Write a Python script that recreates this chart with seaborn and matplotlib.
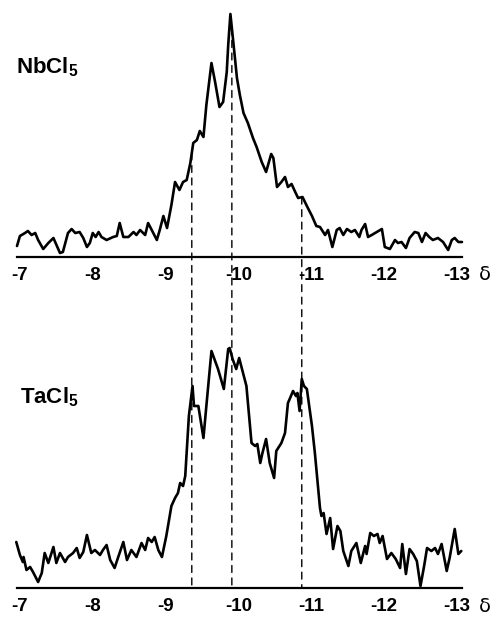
import numpy as np
import pandas as pd
import matplotlib
matplotlib.use("Agg")
import matplotlib.pyplot as plt
from matplotlib.patches import ConnectionPatch
import seaborn as sns

# chemical shift (ppm) and intensity
nb_shift = [-6.96, -7.00, -7.07, -7.11, -7.16, -7.21, -7.25, -7.32, -7.39, -7.46,
            -7.55, -7.59, -7.66, -7.71, -7.76, -7.82, -7.87, -7.92, -7.96, -8.00,
            -8.04, -8.08, -8.12, -8.19, -8.28, -8.33, -8.37, -8.42, -8.49, -8.56,
            -8.60, -8.65, -8.72, -8.76, -8.81, -8.88, -8.92, -8.97, -9.02, -9.08,
            -9.13, -9.19, -9.24, -9.29, -9.34, -9.38, -9.43, -9.47, -9.52, -9.56,
            -9.63, -9.68, -9.74, -9.79, -9.84, -9.86, -9.89, -9.93, -9.98, -10.02,
            -10.07, -10.13, -10.20, -10.25, -10.32, -10.38, -10.45, -10.48, -10.53, -10.59,
            -10.64, -10.68, -10.73, -10.78, -10.82, -10.88, -10.94, -11.01, -11.07, -11.12,
            -11.19, -11.23, -11.29, -11.35, -11.39, -11.44, -11.49, -11.55, -11.60, -11.66,
            -11.69, -11.74, -11.78, -11.83, -11.90, -11.97, -12.01, -12.08, -12.15, -12.19,
            -12.24, -12.30, -12.35, -12.42, -12.47, -12.52, -12.57, -12.62, -12.67, -12.74,
            -12.81, -12.88, -12.93, -12.97, -13.02, -13.07]
nb_int = [11, 21, 24, 26, 22, 24, 17, 8, 14, 19,
          4, 5, 24, 28, 24, 25, 19, 10, 14, 24,
          20, 25, 20, 17, 20, 21, 34, 20, 20, 25,
          22, 27, 22, 34, 27, 17, 27, 41, 29, 52,
          75, 67, 75, 77, 94, 114, 117, 126, 120, 152,
          194, 175, 150, 155, 185, 212, 243, 215, 179, 162,
          144, 134, 119, 110, 95, 85, 103, 99, 70, 75,
          80, 70, 73, 65, 59, 60, 51, 41, 31, 30,
          22, 27, 10, 27, 29, 22, 28, 25, 27, 20,
          27, 33, 20, 22, 25, 28, 10, 8, 17, 14,
          15, 9, 19, 25, 24, 15, 24, 20, 17, 19,
          15, 7, 17, 19, 15, 15]

ta_shift = [-6.95, -7.00, -7.04, -7.05, -7.09, -7.14, -7.18, -7.25, -7.30, -7.34,
            -7.39, -7.46, -7.50, -7.55, -7.62, -7.66, -7.73, -7.78, -7.82, -7.87,
            -7.92, -7.98, -8.03, -8.10, -8.14, -8.19, -8.24, -8.30, -8.35, -8.42,
            -8.47, -8.53, -8.60, -8.67, -8.72, -8.76, -8.81, -8.85, -8.90, -8.95,
            -9.01, -9.08, -9.13, -9.17, -9.20, -9.24, -9.27, -9.32, -9.37, -9.39,
            -9.45, -9.52, -9.56, -9.63, -9.72, -9.80, -9.86, -9.88, -9.92, -9.97,
            -10.01, -10.11, -10.18, -10.23, -10.26, -10.30, -10.33, -10.38, -10.43, -10.49,
            -10.52, -10.59, -10.64, -10.68, -10.71, -10.75, -10.79, -10.81, -10.84, -10.87,
            -10.90, -10.94, -11.01, -11.05, -11.12, -11.14, -11.17, -11.21, -11.26, -11.30,
            -11.36, -11.40, -11.44, -11.51, -11.55, -11.62, -11.68, -11.74, -11.76, -11.81,
            -11.86, -11.91, -11.94, -11.98, -12.04, -12.10, -12.16, -12.22, -12.25, -12.30,
            -12.35, -12.40, -12.45, -12.50, -12.55, -12.59, -12.65, -12.70, -12.74, -12.79,
            -12.86, -12.90, -12.97, -13.02, -13.06]
ta_int = [46, 33, 26, 31, 18, 21, 16, 6, 15, 35,
          25, 41, 25, 35, 26, 31, 35, 40, 30, 36,
          53, 35, 38, 33, 38, 43, 28, 20, 31, 46,
          28, 38, 31, 45, 38, 50, 46, 51, 38, 31,
          52, 82, 90, 95, 105, 102, 112, 172, 202, 182,
          182, 150, 182, 237, 219, 199, 239, 240, 229, 219,
          230, 202, 145, 142, 144, 125, 135, 149, 125, 110,
          137, 145, 155, 185, 190, 197, 192, 195, 177, 209,
          202, 199, 162, 135, 80, 72, 75, 54, 70, 39,
          62, 57, 37, 22, 37, 45, 25, 42, 34, 55,
          52, 54, 45, 52, 29, 35, 29, 20, 44, 14,
          39, 34, 27, 2, 22, 40, 37, 40, 34, 44,
          17, 30, 59, 34, 37]

peak_shifts = [-9.36, -9.91, -10.87]
tick_vals = [-7, -8, -9, -10, -11, -12, -13]
labels = ["NbCl$_5$", "TaCl$_5$"]

sns.set_style("white")
plt.rcParams['font.family'] = ['Liberation Sans', 'DejaVu Sans']
plt.rcParams['axes.unicode_minus'] = False
plt.rcParams['mathtext.default'] = 'regular'
plt.rcParams['text.color'] = 'black'
plt.rcParams['xtick.color'] = 'black'
plt.rcParams['xtick.labelcolor'] = 'black'

W, H = 495, 619
fig = plt.figure(figsize=(W / 100, H / 100), dpi=100)
ax_top = fig.add_axes([17 / W, 1 - 257 / H, 445 / W, 250 / H])
ax_bot = fig.add_axes([17 / W, 1 - 588 / H, 445 / W, 250 / H])

spectra = [(ax_top, nb_shift, nb_int), (ax_bot, ta_shift, ta_int)]
for ax, xs, ys in spectra:
    df = pd.DataFrame({"shift": xs, "intensity": ys})
    sns.lineplot(data=df, x="shift", y="intensity", ax=ax, color="black",
                 linewidth=1.9, estimator=None, sort=False, clip_on=False)
    ax.set_xlim(-6.96, -13.07)
    ax.set_ylim(0, 250)
    for s in ["top", "left", "right"]:
        ax.spines[s].set_visible(False)
    ax.spines["bottom"].set_linewidth(1.6)
    ax.spines["bottom"].set_color("black")
    ax.set_yticks([])
    ax.set_xticks(tick_vals)
    ax.set_xticklabels([str(t) for t in tick_vals])
    ax.tick_params(axis="x", direction="out", length=6, width=1.6, pad=1.5,
                   labelsize=13.5, color="black", labelcolor="black")
    for lab in ax.get_xticklabels():
        lab.set_fontweight("bold")
    ax.set_xlabel("")
    ax.set_ylabel("")
    ax.text(1.052, -0.072, "δ", transform=ax.transAxes, ha="center", va="center",
            fontsize=14, family=["DejaVu Sans"], color="black")
    ax.patch.set_alpha(0)

fig.text(16 / W, 1 - 67 / H, labels[0], fontsize=16, fontweight="bold", va="center")
fig.text(20 / W, 1 - 397 / H, labels[1], fontsize=16, fontweight="bold", va="center")

# dashed guide lines from the NbCl5 curve down to the lower axis
for p in peak_shifts:
    top_y = np.interp(-p, [-v for v in nb_shift], nb_int)
    con = ConnectionPatch(xyA=(p, top_y), coordsA=ax_top.transData,
                          xyB=(p, 0), coordsB=ax_bot.transData,
                          color="black", linewidth=1.0, linestyle=(0, (5, 4)))
    fig.add_artist(con)

fig.savefig("out.png", dpi=100)
